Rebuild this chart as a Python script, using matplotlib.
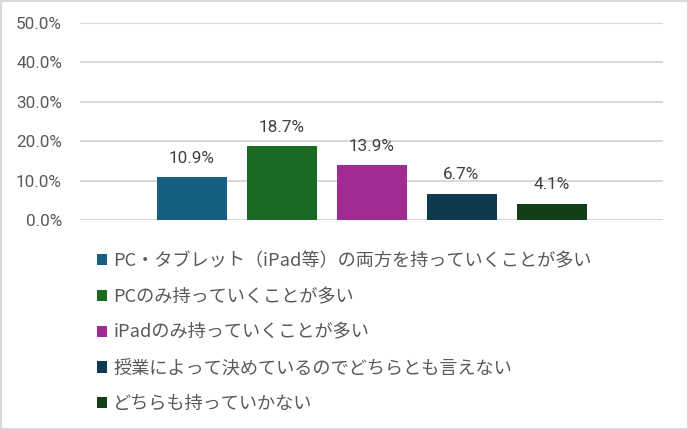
import matplotlib
matplotlib.use("Agg")
import matplotlib.pyplot as plt
from matplotlib.patches import Rectangle

plt.rcParams['font.family'] = ['Noto Sans CJK JP', 'DejaVu Sans']

categories = ["PC・タブレット（iPad等）の両方を持っていくことが多い",
              "PCのみ持っていくことが多い",
              "iPadのみ持っていくことが多い",
              "授業によって決めているのでどちらとも言えない",
              "どちらも持っていかない"]
values = [10.9, 18.7, 13.9, 6.7, 4.1]
colors = ["#156082", "#196B24", "#A02B93", "#0E3A50", "#123F17"]
yticks = [0, 10, 20, 30, 40, 50]
ytick_labels = ["0.0%", "10.0%", "20.0%", "30.0%", "40.0%", "50.0%"]

W, H = 688, 429
fig = plt.figure(figsize=(W/100, H/100), dpi=100)
fig.patches.append(Rectangle((0.5/W, 0.5/H), 1-1/W, 1-1/H, transform=fig.transFigure,
                             fill=False, edgecolor="#D9D9D9", linewidth=1.5))

left, right, top, bottom = 80, 663, 23, 220
ax = fig.add_axes([left/W, 1-bottom/H, (right-left)/W, (bottom-top)/H])
xs = list(range(len(values)))
bw = 70/90
for x, v, c, lab in zip(xs, values, colors, categories):
    ax.bar(x, v, width=bw, color=c, label=lab, zorder=3)
    ax.text(x, v + 2.9, f"{v:.1f}%", ha="center", va="bottom", fontsize=12.3,
            color="#404040", family=["Roboto", "DejaVu Sans"])
half = (right-left)/90/2
ax.set_xlim(2-half, 2+half)
ax.set_ylim(0, 50)
ax.set_yticks(yticks)
ax.set_yticklabels(ytick_labels, family=["Roboto", "DejaVu Sans"], fontsize=12.3, color="#595959")
ax.set_xticks([])
ax.tick_params(axis="y", length=0, pad=13)
for s in ax.spines.values():
    s.set_visible(False)
ax.grid(axis="y", color="#D9D9D9", linewidth=1.5, zorder=0)
ax.set_axisbelow(True)

handles, labels = ax.get_legend_handles_labels()
leg = fig.legend(handles, labels, loc="upper left", bbox_to_anchor=(97/W, 1-252/H),
                 frameon=False, fontsize=13.1, handlelength=0.57, handleheight=0.57,
                 handletextpad=0.32, labelspacing=0.98, borderaxespad=0, borderpad=0)
for t in leg.get_texts():
    t.set_color("#595959")

fig.savefig("out.png", dpi=100)
